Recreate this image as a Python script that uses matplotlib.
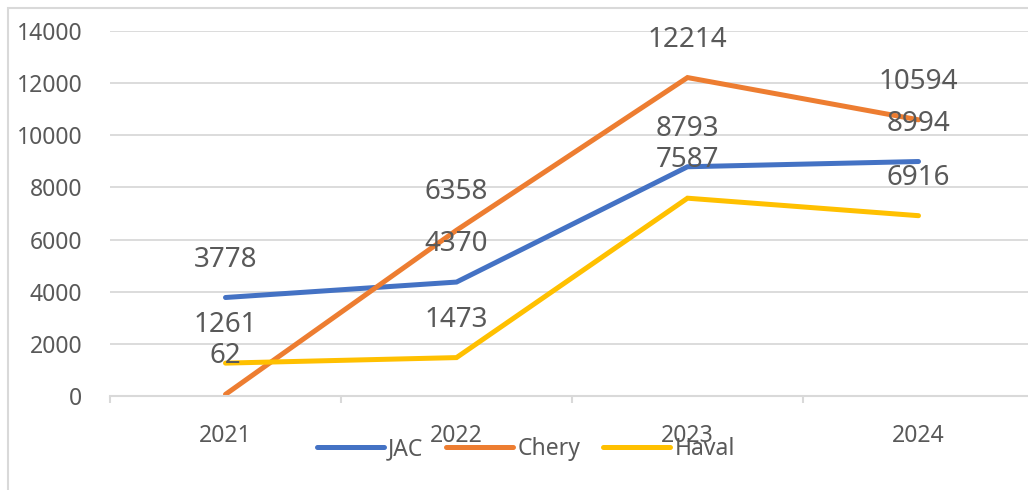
import matplotlib
matplotlib.use("Agg")
import matplotlib.pyplot as plt
from matplotlib.patches import Rectangle

# 数据
years = ['2021', '2022', '2023', '2024']
jac = [3778, 4370, 8793, 8994]
chery = [62, 6358, 12214, 10594]
haval = [1261, 1473, 7587, 6916]

series_names = ['JAC', 'Chery', 'Haval']
series_colors = ['#4472C4', '#ED7D31', '#FFC000']

plt.rcParams['font.family'] = ['Noto Sans', 'DejaVu Sans']
text_color = '#595959'
grid_color = '#D9D9D9'

W, H = 1028, 490
fig = plt.figure(figsize=(W / 100, H / 100), dpi=100)

# 外框
fig.patches.append(Rectangle((8 / W, -0.1), 1.2, 1 - 8 / H + 0.1,
                             transform=fig.transFigure, fill=False,
                             edgecolor=grid_color, linewidth=1.5))

ax = fig.add_axes([110 / W, 94 / H, 924 / W, 365 / H])
x = list(range(len(years)))

for vals, name, color in zip([jac, chery, haval], series_names, series_colors):
    ax.plot(x, vals, color=color, linewidth=3.6, label=name,
            solid_capstyle='round', solid_joinstyle='miter')
    for xi, v in zip(x, vals):
        ax.annotate(str(v), (xi, v), xytext=(0, 38), textcoords='offset pixels',
                    ha='center', va='center', fontsize=20, color=text_color)

ax.set_xlim(-0.5, 3.5)
ax.set_ylim(0, 14000)
ax.set_yticks(range(0, 14001, 2000))
ax.set_xticks(x)
ax.set_xticklabels(years)
ax.set_xticks([-0.5, 0.5, 1.5, 2.5], minor=True)

ax.grid(axis='y', color=grid_color, linewidth=1.3)
ax.set_axisbelow(True)
for side in ['left', 'right', 'top']:
    ax.spines[side].set_visible(False)
ax.spines['bottom'].set_color(grid_color)
ax.spines['bottom'].set_linewidth(1.5)

ax.tick_params(axis='y', length=0, pad=20, labelsize=16.5, labelcolor=text_color)
ax.tick_params(axis='x', which='major', length=0, pad=20, labelsize=16.5,
               labelcolor=text_color)
ax.tick_params(axis='x', which='minor', length=5, width=1.5, color=grid_color)

leg = ax.legend(loc='center', bbox_to_anchor=(526 / W, 1 - 449 / H),
                bbox_transform=fig.transFigure, ncol=3, frameon=False,
                fontsize=16.5, handlelength=2.9, handletextpad=0.2,
                columnspacing=1.0)
for t in leg.get_texts():
    t.set_color(text_color)

fig.savefig('out.png', dpi=100)
